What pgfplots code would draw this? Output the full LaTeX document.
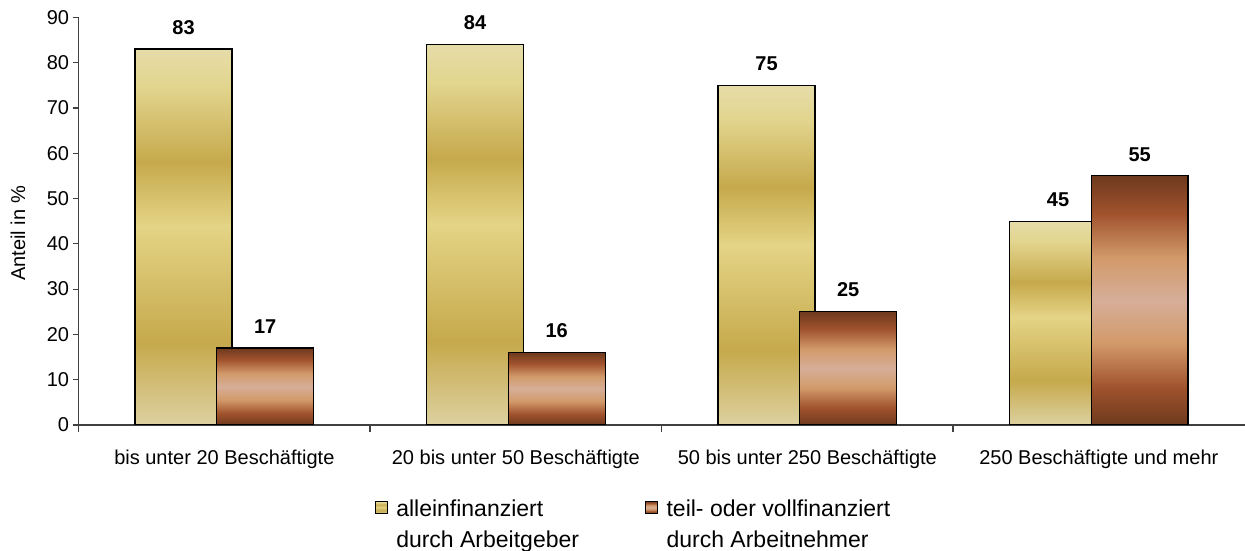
\documentclass[border=0pt]{standalone}
\usepackage{pgfplots}
\pgfplotsset{compat=1.18}
\usepackage{fontspec}
\setmainfont{Liberation Sans}
\definecolor{gA}{HTML}{E6DCA8}
\definecolor{gA2}{HTML}{E2D58E}
\definecolor{gB}{HTML}{C6A94C}
\definecolor{gC}{HTML}{E4D486}
\definecolor{gD}{HTML}{DDD1A0}
\definecolor{bA}{HTML}{6E3A1E}
\definecolor{bB}{HTML}{A0522D}
\definecolor{bC}{HTML}{D29A6A}
\definecolor{bD}{HTML}{D6AE98}
\pgfdeclareverticalshading{goldbar}{100bp}{color(0bp)=(gD); color(25bp)=(gD); color(36bp)=(gB); color(51.5bp)=(gC); color(60bp)=(gB); color(70bp)=(gA2); color(75bp)=(gA); color(100bp)=(gA)}
\pgfdeclareverticalshading{brownbar}{100bp}{color(0bp)=(bA); color(25bp)=(bA); color(32.5bp)=(bB); color(41.5bp)=(bC); color(50bp)=(bD); color(58.5bp)=(bC); color(67.5bp)=(bB); color(75bp)=(bA); color(100bp)=(bA)}
\pgfplotsset{
  goldst/.style={bar shift=-0.14, shading=goldbar, draw=black, line width=1.2pt,
    legend image code/.code={\path[draw=none,fill=none,shade=false] (0pt,11pt) rectangle (19pt,23pt); \draw[shading=goldbar, draw=black, line width=1pt] (0pt,11pt) rectangle (12pt,23pt);}},
  brownst/.style={bar shift=0.14, shading=brownbar, draw=black, line width=1.2pt,
    legend image code/.code={\path[draw=none,fill=none,shade=false] (0pt,11pt) rectangle (19pt,23pt); \draw[shading=brownbar, draw=black, line width=1pt] (0pt,11pt) rectangle (12pt,23pt);}},
}
\begin{document}
\begin{tikzpicture}
\path[use as bounding box] (0,0) rectangle (1245pt,551pt);
\begin{axis}[
  at={(78.6pt,126pt)}, anchor=south west,
  scale only axis, width=1166pt, height=407.7pt,
  xmin=-0.5, xmax=3.5, ymin=0, ymax=90,
  axis lines=left,
  axis line style={-, black!75, line width=1.2pt},
  ytick={0,10,...,90},
  xtick={0,1,2,3},
  xticklabels={bis unter 20 Beschäftigte, 20 bis unter 50 Beschäftigte, 50 bis unter 250 Beschäftigte, 250 Beschäftigte und mehr},
  minor xtick={-0.5,0.5,1.5,2.5},
  tick align=outside,
  major tick length=6pt,
  minor tick length=7pt,
  tick style={black!75, line width=1.2pt},
  major x tick style={draw=none},
  /pgf/number format/assume math mode=true,
  yticklabel style={font=\fontsize{20}{24}\selectfont},
  xticklabel style={font=\fontsize{20}{24}\selectfont, yshift=-15pt},
  ylabel={Anteil in \%},
  ylabel style={at={(axis description cs:-0.052,0.47)}, anchor=center, font=\fontsize{20}{24}\selectfont},
  ybar, bar width=0.3325,
  nodes near coords,
  every node near coord/.append style={font=\bfseries\fontsize{20}{24}\selectfont, inner sep=0pt, yshift=14pt, text=black},
  legend style={at={(axis description cs:0.254,-0.179)}, anchor=north west, draw=none, fill=none, inner sep=0pt, outer sep=0pt,
    font=\fontsize{23}{30.5}\selectfont, cells={align=left}, /tikz/every even column/.append style={column sep=64pt}},
  legend columns=2, legend cell align=left,
]
\addplot[goldst] coordinates {(0,83)};
\addlegendentry{alleinfinanziert\\durch Arbeitgeber}
\addplot[brownst] coordinates {(0,17)};
\addlegendentry{teil- oder vollfinanziert\\durch Arbeitnehmer}
\addplot[goldst, forget plot] coordinates {(1,84)};
\addplot[brownst, forget plot] coordinates {(1,16)};
\addplot[goldst, forget plot] coordinates {(2,75)};
\addplot[brownst, forget plot] coordinates {(2,25)};
\addplot[goldst, forget plot] coordinates {(3,45)};
\addplot[brownst, forget plot] coordinates {(3,55)};
\end{axis}
\end{tikzpicture}
\end{document}
